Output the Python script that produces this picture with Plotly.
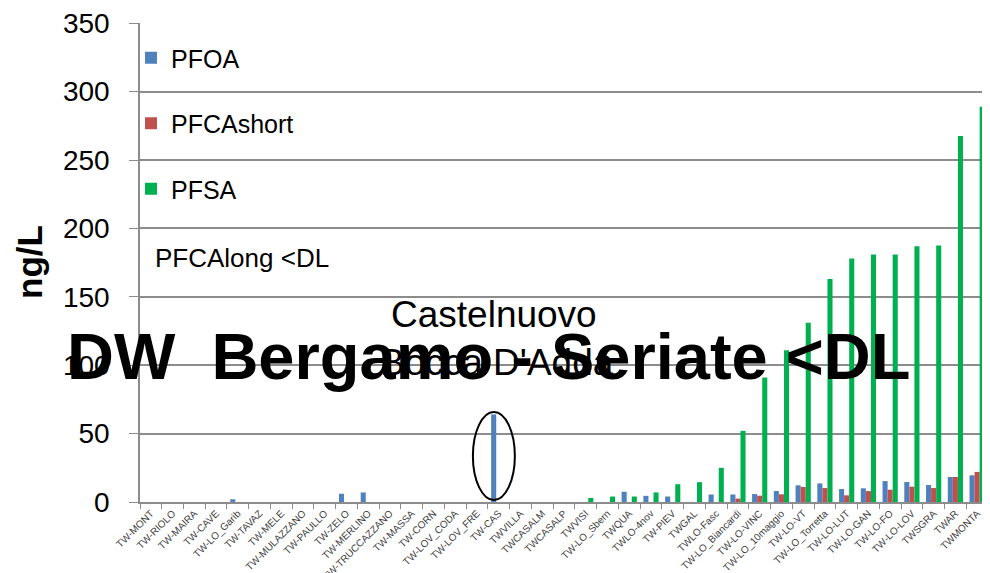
import plotly.graph_objects as go

categories = ["TW-MONT", "TW-RIOLO", "TW-MAIRA", "TW-CAVE", "TW-LO_Garib", "TW-TAVAZ", "TW-MELE",
              "TW-MULAZZANO", "TW-PAULLO", "TW-ZELO", "TW-MERLINO", "TW-TRUCCAZZANO", "TW-MASSA",
              "TW-CORN", "TW-LOV_CODA", "TW-LOV_FRE", "TW-CAS", "TWVILLA", "TWCASALM", "TWCASALP",
              "TWVISI", "TW-LO_Sbern", "TWQUA", "TWLO-4nov", "TW-PIEV", "TWGAL", "TWLO-Fasc",
              "TW-LO_Biancardi", "TW-LO-VINC", "TW-LO_10maggio", "TW-LO-VT", "TW-LO_Torretta",
              "TW-LO-LUT", "TW-LO-GAN", "TW-LO-FO", "TW-LO-LOV", "TWSGRA", "TWAR", "TWMONTA"]

pfoa = [0, 0, 0, 0, 2, 0, 0, 0, 0, 6, 7, 0, 0, 0, 0, 0, 64, 0, 0, 0,
        0, 0, 7.5, 4.5, 4, 0, 5.5, 5.5, 5.8, 8, 12.2, 13.6, 9.5, 10, 15.3, 14.6, 12.4, 18.3, 19.5]
pfcashort = [0, 0, 0, 0, 0, 0, 0, 0, 0, 0, 0, 0, 0, 0, 0, 0, 0, 0, 0, 0,
             0, 0, 0, 0, 0, 0, 0, 2.5, 4.6, 5.6, 11, 10.2, 4.9, 8, 9, 11.2, 10.2, 18.3, 22]
pfsa = [0, 0, 0, 0, 0, 0, 0, 0, 0, 0, 0, 0, 0, 0, 0, 0, 0, 0, 0, 0,
        3, 4, 4, 7, 13, 14.5, 25, 52, 91, 111, 131, 163, 178, 181, 181, 187, 187.5, 267.5, 289]

y_ticks = [0, 50, 100, 150, 200, 250, 300, 350]

series = [("PFOA", pfoa, "#4F81BD"), ("PFCAshort", pfcashort, "#C0504D"), ("PFSA", pfsa, "#00B050")]

fig = go.Figure()
for name, vals, col in series:
    fig.add_trace(go.Bar(x=categories, y=vals, name=name, marker=dict(color=col, line=dict(width=0)),
                         legendgroup=name))

# page body has an 8px margin: figure is sized 8px smaller, plot area kept at reference pixels
PW, PH = 848, 479
def px(xp):
    return (xp - 140) / PW
def py(yp):
    return 1 - (yp - 23) / PH

grid = "#8C8C8C"
fig.update_layout(
    width=982, height=565,
    margin=dict(l=132, r=2, t=15, b=71, autoexpand=False),
    paper_bgcolor="white", plot_bgcolor="white",
    barmode="group", bargap=0.30, bargroupgap=0,
    font=dict(family="Liberation Sans, Arial, sans-serif", color="black"),
    showlegend=True,
    legend=dict(x=px(131), y=py(35), xanchor="left", yanchor="top", traceorder="grouped",
                tracegroupgap=30, font=dict(size=25), bgcolor="rgba(0,0,0,0)",
                itemwidth=30),
    xaxis=dict(type="category", tickangle=-45, tickfont=dict(size=10, color="#404040"),
               showgrid=False, showline=True, linecolor=grid, linewidth=1.5, automargin=False,
               ticks="outside", tickson="boundaries", ticklen=5, tickcolor=grid),
    yaxis=dict(range=[0, 350.2], tickmode="array", tickvals=y_ticks,
               ticktext=[str(v) for v in y_ticks],
               showgrid=True, gridcolor=grid, gridwidth=1.5,
               showline=True, linecolor=grid, linewidth=1.5, ticks="outside", ticklen=9,
               tickcolor=grid, tickfont=dict(size=28), zeroline=False, automargin=False,
               ticklabelstandoff=14),
)

fig.add_annotation(text="<b>ng/L</b>", xref="paper", yref="paper", x=px(29), y=py(262),
                   xanchor="center", yanchor="middle", textangle=-90, showarrow=False,
                   font=dict(size=35))

fig.add_annotation(text="PFCAlong <DL", xref="paper", yref="paper", x=px(153),
                   y=py(258), xanchor="left", yanchor="middle",
                   showarrow=False, font=dict(size=26))

fig.add_annotation(text="<b>DW  Bergamo - Seriate <DL</b>", xref="paper", yref="paper",
                   x=px(488), y=py(356), xanchor="center", yanchor="middle",
                   showarrow=False, font=dict(size=65))
fig.add_annotation(text="Castelnuovo", xref="paper", yref="paper",
                   x=px(494), y=py(314), xanchor="center", yanchor="middle",
                   showarrow=False, font=dict(size=37))
fig.add_annotation(text="Bocca D'Adda", xref="paper", yref="paper",
                   x=px(497), y=py(362), xanchor="center", yanchor="middle",
                   showarrow=False, font=dict(size=37))

fig.add_shape(type="circle", xref="x", yref="y", x0=14.81, x1=16.74, y0=1.5, y1=65.8,
              line=dict(color="black", width=2), fillcolor="rgba(0,0,0,0)")

fig.write_html("out.html")
